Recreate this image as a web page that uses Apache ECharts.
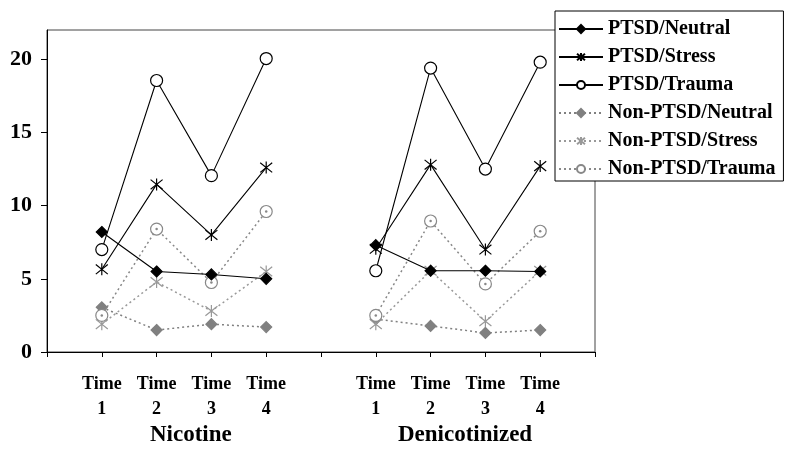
<!DOCTYPE html>
<html><head><meta charset="utf-8">
<script src="https://cdn.jsdelivr.net/npm/echarts@6/dist/echarts.min.js"></script>
<style>html,body{margin:0;padding:0;background:#fff}#c{width:800px;height:456px}</style>
</head><body><div id="c"></div>
<script>
var categories = ['', 'Time\n1', 'Time\n2', 'Time\n3', 'Time\n4', '', 'Time\n1', 'Time\n2', 'Time\n3', 'Time\n4', ''];
var groupLabels = ['Nicotine', 'Denicotinized'];
var yTicks = [0, 5, 10, 15, 20];
var ptsdNeutral    = [null, 8.2, 5.5, 5.3, 5.0, null, 7.3, 5.55, 5.55, 5.5, null];
var ptsdStress     = [null, 5.65, 11.45, 8.0, 12.6, null, 7.05, 12.8, 7.0, 12.7, null];
var ptsdTrauma     = [null, 7.0, 18.55, 12.05, 20.05, null, 5.55, 19.4, 12.5, 19.8, null];
var nonNeutral     = [null, 3.05, 1.5, 1.9, 1.7, null, 2.25, 1.78, 1.3, 1.5, null];
var nonStress      = [null, 1.9, 4.78, 2.8, 5.5, null, 1.9, 5.55, 2.1, 5.55, null];
var nonTrauma      = [null, 2.5, 8.4, 4.75, 9.6, null, 2.5, 8.95, 4.65, 8.25, null];
var seriesNames = ['PTSD/Neutral', 'PTSD/Stress', 'PTSD/Trauma', 'Non-PTSD/Neutral', 'Non-PTSD/Stress', 'Non-PTSD/Trauma'];

var FONT = '"Liberation Serif", "Times New Roman", serif';
var STAR = 'path://M0,-1L0,1M-0.8,-0.8L0.8,0.8M-0.8,0.8L0.8,-0.8';

function mk(name, data, color, dashed, symbol, size, fill) {
  return {
    name: name, type: 'line', data: data, connectNulls: false,
    symbol: symbol, symbolSize: size, showSymbol: true,
    lineStyle: { color: color, width: dashed ? 1.5 : 1.1, type: dashed ? [2, 3] : 'solid' },
    itemStyle: { color: fill, borderColor: color, borderWidth: 1.2 },
    emphasis: { disabled: true }, z: dashed ? 2 : 3
  };
}

var chart = echarts.init(document.getElementById('c'), null, { renderer: 'canvas' });
chart.setOption({
  animation: false,
  backgroundColor: '#fff',
  grid: { left: 47, right: 205, top: 30, bottom: 104, show: true, borderColor: '#444', borderWidth: 1 },
  xAxis: {
    type: 'category', data: categories, boundaryGap: false,
    axisLine: { lineStyle: { color: '#000', width: 1 } },
    axisTick: { show: true, length: 5, lineStyle: { color: '#000' }, interval: 0 },
    axisLabel: { interval: 0, color: '#000', fontFamily: FONT, fontWeight: 'bold', fontSize: 18, lineHeight: 25, margin: 20 },
    splitLine: { show: false }
  },
  yAxis: {
    type: 'value', min: 0, max: 22, interval: 5,
    axisLine: { show: true, lineStyle: { color: '#000', width: 1 } },
    axisTick: { show: true, length: 6, lineStyle: { color: '#000' }, customValues: yTicks },
    axisLabel: { color: '#000', fontFamily: FONT, fontWeight: 'bold', fontSize: 22, margin: 15, customValues: yTicks },
    splitLine: { show: false }
  },
  legend: {
    data: seriesNames, orient: 'vertical', left: 555, top: 11,
    backgroundColor: '#fff', borderColor: '#000', borderWidth: 1,
    padding: [8, 8, 2, 3], itemWidth: 44, itemHeight: 10, itemGap: 8,
    textStyle: { fontFamily: FONT, fontWeight: 'bold', fontSize: 20, color: '#000' },
    selectedMode: false
  },
  graphic: [
    { type: 'text', left: 190 - 40, top: 424, style: { text: groupLabels[0], font: 'bold 23px ' + FONT, fill: '#000' } },
    { type: 'text', left: 465 - 67, top: 424, style: { text: groupLabels[1], font: 'bold 23px ' + FONT, fill: '#000' } }
  ],
  series: [
    mk(seriesNames[0], ptsdNeutral, '#000', false, 'diamond', 11, '#000'),
    mk(seriesNames[1], ptsdStress, '#000', false, STAR, 12, '#000'),
    mk(seriesNames[2], ptsdTrauma, '#000', false, 'circle', 12, '#fff'),
    mk(seriesNames[3], nonNeutral, '#808080', true, 'diamond', 11, '#808080'),
    mk(seriesNames[4], nonStress, '#999', true, STAR, 12, '#999'),
    mk(seriesNames[5], nonTrauma, '#888', true, 'circle', 12, '#fff'),
    {
      name: 'dot', type: 'line', data: nonTrauma, symbol: 'circle', symbolSize: 2.5,
      lineStyle: { width: 0, opacity: 0 }, itemStyle: { color: '#888' }, z: 4, emphasis: { disabled: true }
    }
  ]
});
</script></body></html>
